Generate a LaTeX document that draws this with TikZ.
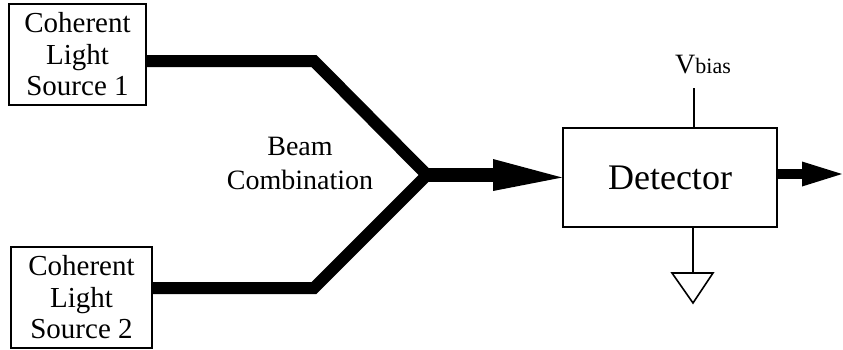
\documentclass[tikz,border=0pt]{standalone}
\usepackage{fontspec}
\setmainfont{Liberation Serif}
\begin{document}
\begin{tikzpicture}[x=1pt,y=-1pt,
  srcbox/.style={draw,line width=1.8pt,inner sep=0pt,align=center,font=\fontsize{29}{31.5}\selectfont},
  beam/.style={line width=12pt,line join=miter,miter limit=4},
  thin/.style={line width=1.6pt}]
\useasboundingbox (0,0) rectangle (843,349);
% source boxes
\node[srcbox,minimum width=137pt,minimum height=101pt] (s1) at (77.5,54.5) {Coherent\\Light\\Source 1};
\node[srcbox,minimum width=141pt,minimum height=101pt] (s2) at (81.5,297.5) {Coherent\\Light\\Source 2};
% detector
\node[draw,line width=1.8pt,minimum width=214pt,minimum height=99pt,inner sep=0pt,font=\fontsize{36}{40}\selectfont] (det) at (670,177.5) {Detector};
% beam path
\coordinate (b1) at (314,61);
\coordinate (b2) at (314,288);
\coordinate (j) at (427,175);
\coordinate (ah) at (493,175);
\draw[beam] (s1.east |- b1) -- (b1) -- (j) -- (b2) -- (s2.east |- b2);
\draw[line width=14pt] (j) -- ([xshift=2pt]ah);
\fill (493,159) -- (det.west) -- (493,191) -- cycle;
\node[font=\fontsize{28}{34}\selectfont,align=center] (bc) at (300,163) {Beam\\Combination};
% output arrow
\coordinate (oh) at (802,174);
\coordinate (otip) at (842,174);
\draw[line width=10pt] (det.east |- oh) -- ([xshift=2pt]oh);
\fill (802,161.5) -- (otip) -- (802,186.5) -- cycle;
% bias
\coordinate (vb) at (694,88);
\draw[thin] (vb) -- (vb |- det.north);
\node[anchor=base,inner sep=0pt] (vbias) at (703,73) {\fontsize{28}{30}\selectfont V\fontsize{22}{24}\selectfont bias};
% ground
\coordinate (g) at (693,273);
\draw[thin] (g |- det.south) -- (g);
\draw[thin,line join=miter] (672,273) -- (713,273) -- (693,303) -- cycle;
\end{tikzpicture}
\end{document}
